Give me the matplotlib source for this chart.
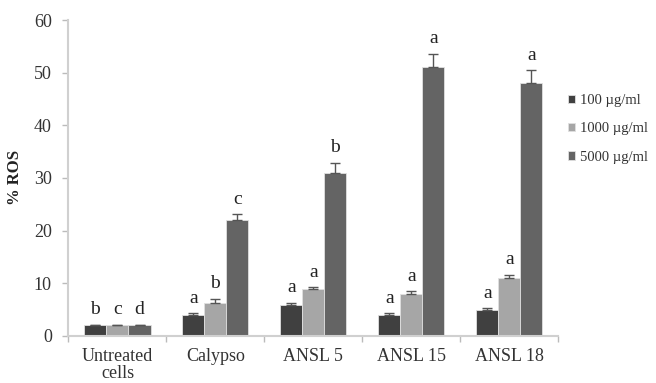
import matplotlib
matplotlib.use("Agg")
import matplotlib.pyplot as plt
import numpy as np

categories = ["Untreated\ncells", "Calypso", "ANSL 5", "ANSL 15", "ANSL 18"]
series_names = ["100 µg/ml", "1000 µg/ml", "5000 µg/ml"]
vals_100 = [2.0, 4.0, 5.9, 4.0, 4.9]
vals_1000 = [2.0, 6.3, 8.9, 8.0, 11.0]
vals_5000 = [2.0, 22.0, 31.0, 51.0, 48.0]
err_100 = [0.1, 0.3, 0.4, 0.3, 0.3]
err_1000 = [0.1, 0.7, 0.3, 0.5, 0.6]
err_5000 = [0.1, 1.1, 1.9, 2.6, 2.5]
letters_100 = ["b", "a", "a", "a", "a"]
letters_1000 = ["c", "b", "a", "a", "a"]
letters_5000 = ["d", "c", "b", "a", "a"]
yticks = [0, 10, 20, 30, 40, 50, 60]

plt.rcParams['font.family'] = ['Liberation Serif', 'DejaVu Serif']

fig = plt.figure(figsize=(6.56, 3.83), dpi=100)
ax = fig.add_axes([0.1044, 0.1235, 0.851 - 0.1044, 0.9475 - 0.1235])

colors = ["#404040", "#a6a6a6", "#646464"]
all_vals = [vals_100, vals_1000, vals_5000]
all_errs = [err_100, err_1000, err_5000]
all_letters = [letters_100, letters_1000, letters_5000]

x = np.arange(len(categories))
w = 0.225
for i in range(3):
    xi = x + (i - 1) * w
    ax.bar(xi, all_vals[i], width=w, color=colors[i], edgecolor="#e0e0e0",
           linewidth=0.6, label=series_names[i], zorder=2)
    ax.errorbar(xi, all_vals[i], yerr=[np.zeros(len(xi)), all_errs[i]],
                fmt="none", ecolor="#555555", elinewidth=1.0, capsize=3.5,
                capthick=1.0, zorder=3)
    for xx, v, e, l in zip(xi, all_vals[i], all_errs[i], all_letters[i]):
        ax.annotate(l, (xx, v + e), xytext=(0, 7.5), textcoords="offset points",
                    ha="center", va="baseline", fontsize=14, color="#222222")

ax.set_xlim(-0.5, len(categories) - 0.5)
ax.set_ylim(0, 60)
ax.set_yticks(yticks)
ax.set_yticklabels([str(t) for t in yticks], fontsize=13, color="#333333")

ax.set_xticks(x)
ax.set_xticklabels(categories, fontsize=13, color="#333333", linespacing=1.0)
ax.tick_params(axis="x", length=0, pad=9)
ax.set_xticks(np.arange(len(categories) + 1) - 0.5, minor=True)
ax.tick_params(axis="x", which="minor", length=4, color="#bbbbbb", width=1.0)
ax.tick_params(axis="y", length=4, color="#bbbbbb", width=1.0, pad=8)

for s in ["top", "right"]:
    ax.spines[s].set_visible(False)
for s in ["left", "bottom"]:
    ax.spines[s].set_color("#d0d0d0")
    ax.spines[s].set_linewidth(1.5)

ax.set_ylabel("% ROS", fontsize=12, fontweight="bold", color="#222222", labelpad=8)

leg = fig.legend(loc="upper left", bbox_to_anchor=(0.857, 0.77), frameon=False,
                 fontsize=10.5, handlelength=0.5, handleheight=0.5, handletextpad=0.3,
                 labelspacing=1.05, borderaxespad=0)
for t in leg.get_texts():
    t.set_color("#333333")

fig.savefig("out.png", dpi=100)
